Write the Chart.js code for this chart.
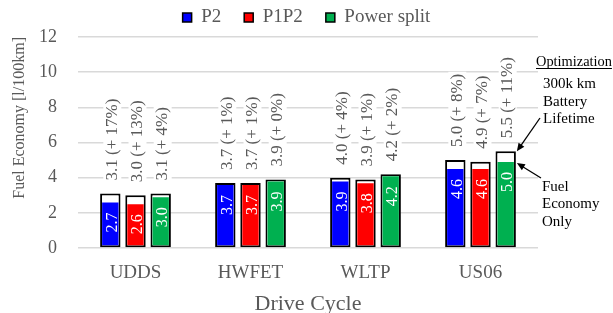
<!DOCTYPE html>
<html>
<head>
<meta charset="utf-8">
<script src="https://cdn.jsdelivr.net/npm/chart.js@4/dist/chart.umd.min.js"></script>
<style>
	html, body { margin: 0; padding: 0; background: #fff; }
	#wrap { width: 613px; height: 313px; position: relative; }
</style>
</head>
<body>
<div id="wrap"><canvas id="bar-chart"></canvas></div>
<script>
const cycles = ['UDDS', 'HWFET', 'WLTP', 'US06'];
const seriesNames = ['P2', 'P1P2', 'Power split'];
const seriesColors = ['#0000ff', '#ff0000', '#00b050'];

// fuel economy only optimisation (coloured part)
const feP2 = [2.7, 3.7, 3.9, 4.6];
const feP1P2 = [2.6, 3.7, 3.8, 4.6];
const fePowerSplit = [3.0, 3.9, 4.2, 5.0];

// 300k km battery lifetime optimisation (outlined bar)
const lifeP2 = [3.1, 3.7, 4.0, 5.0];
const lifeP1P2 = [3.0, 3.7, 3.9, 4.9];
const lifePowerSplit = [3.1, 3.9, 4.2, 5.5];

// increase in percent
const pctP2 = [17, 1, 4, 8];
const pctP1P2 = [13, 1, 1, 7];
const pctPowerSplit = [4, 0, 2, 11];

const yTicks = [0, 2, 4, 6, 8, 10, 12];

const feValues = [feP2, feP1P2, fePowerSplit],
	lifeValues = [lifeP2, lifeP1P2, lifePowerSplit],
	pctValues = [pctP2, pctP1P2, pctPowerSplit];

const serif = '"Liberation Serif", "Times New Roman", serif';
const grey = '#595959';

let datasets = [];
// coloured fill bars first so they are drawn on top
for (let s = 0; s < 3; s++) {
	datasets.push({
		label: seriesNames[s],
		data: feValues[s],
		stack: 's' + s,
		backgroundColor: seriesColors[s],
		borderColor: 'rgba(0,0,0,0)',
		borderWidth: 2,
		borderSkipped: false,
		categoryPercentage: 0.657,
		barPercentage: 0.81
	});
}
for (let s = 0; s < 3; s++) {
	datasets.push({
		label: seriesNames[s] + ' lifetime',
		data: lifeValues[s],
		stack: 's' + s,
		backgroundColor: '#ffffff',
		borderColor: '#000000',
		borderWidth: 2,
		borderSkipped: false,
		categoryPercentage: 0.657,
		barPercentage: 0.81
	});
}

const barLabels = {
	id: 'barLabels',
	afterDatasetsDraw(chart) {
		const ctx = chart.ctx;
		for (let s = 0; s < 3; s++) {
			const outMeta = chart.getDatasetMeta(s + 3),
				fillMeta = chart.getDatasetMeta(s);
			outMeta.data.forEach(function (bar, i) {
				const txt = lifeValues[s][i].toFixed(1) + ' (+ ' + pctValues[s][i] + '%)';
				ctx.save();
				ctx.font = '17px ' + serif;
				const w = ctx.measureText(txt).width;
				const x = bar.x + 2, y = bar.y - 13;
				ctx.fillStyle = '#fff';
				ctx.fillRect(x - 9, y - w - 2, 18, w + 4);
				ctx.translate(x, y);
				ctx.rotate(-Math.PI / 2);
				ctx.textAlign = 'left';
				ctx.textBaseline = 'middle';
				ctx.fillStyle = grey;
				ctx.fillText(txt, 0, 0);
				ctx.restore();
			});
			fillMeta.data.forEach(function (bar, i) {
				const txt = feValues[s][i].toFixed(1);
				ctx.save();
				ctx.font = '16px ' + serif;
				ctx.translate(bar.x + 2, bar.y + 12);
				ctx.rotate(-Math.PI / 2);
				ctx.textAlign = 'right';
				ctx.textBaseline = 'middle';
				ctx.fillStyle = '#fff';
				ctx.fillText(txt, 0, 0);
				ctx.restore();
			});
		}
	}
};

function arrow(ctx, x1, y1, x2, y2) {
	const a = Math.atan2(y2 - y1, x2 - x1);
	ctx.beginPath();
	ctx.moveTo(x1, y1);
	ctx.lineTo(x2 - 6 * Math.cos(a), y2 - 6 * Math.sin(a));
	ctx.stroke();
	ctx.beginPath();
	ctx.moveTo(x2, y2);
	ctx.lineTo(x2 - 8 * Math.cos(a) + 3.5 * Math.sin(a), y2 - 8 * Math.sin(a) - 3.5 * Math.cos(a));
	ctx.lineTo(x2 - 8 * Math.cos(a) - 3.5 * Math.sin(a), y2 - 8 * Math.sin(a) + 3.5 * Math.cos(a));
	ctx.closePath();
	ctx.fill();
}

const notes = {
	id: 'notes',
	afterDraw(chart) {
		const ctx = chart.ctx;
		const outline = chart.getDatasetMeta(5).data[3],
			fill = chart.getDatasetMeta(2).data[3];
		const rx = outline.x + outline.width / 2;
		ctx.save();
		ctx.fillStyle = '#000';
		ctx.strokeStyle = '#000';
		ctx.textAlign = 'left';
		ctx.textBaseline = 'middle';
		ctx.font = '14.4px ' + serif;
		ctx.fillText('Optimization', 536, 62);
		const ow = ctx.measureText('Optimization').width;
		ctx.lineWidth = 1;
		ctx.beginPath();
		ctx.moveTo(536, 68.5);
		ctx.lineTo(536 + ow, 68.5);
		ctx.stroke();
		ctx.font = '15px ' + serif;
		ctx.fillText('300k km', 543, 84);
		ctx.fillText('Battery', 543, 102);
		ctx.fillText('Lifetime', 543, 119);
		ctx.fillText('Fuel', 542, 187);
		ctx.fillText('Economy', 542, 204);
		ctx.fillText('Only', 542, 222);
		ctx.lineWidth = 1.3;
		arrow(ctx, 540, 118, rx + 1, outline.y);
		arrow(ctx, 541, 178, rx + 1, fill.y + 3);
		ctx.restore();
	}
};

const ctx = document.querySelector('#bar-chart').getContext('2d');
const bChart = new Chart(ctx, {
	type: 'bar',
	data: {
		labels: cycles,
		datasets: datasets
	},
	options: {
		responsive: true,
		maintainAspectRatio: false,
		animation: false,
		events: [],
		layout: {
			padding: { top: -15, left: 0, right: 0, bottom: 0 }
		},
		plugins: {
			tooltip: { enabled: false },
			legend: {
				display: true,
				position: 'top',
				labels: {
					boxWidth: 9,
					boxHeight: 9,
					padding: 23,
					color: grey,
					font: { family: serif, size: 19 },
					generateLabels: function (chart) {
						return Chart.defaults.plugins.legend.labels.generateLabels(chart)
							.filter(function (item) { return item.datasetIndex < 3; })
							.map(function (item) {
								item.strokeStyle = '#000';
								item.lineWidth = 1.5;
								return item;
							});
					}
				}
			}
		},
		scales: {
			x: {
				stacked: true,
				grid: { display: false, drawTicks: false },
				border: { display: false },
				ticks: {
					color: grey,
					font: { family: serif, size: 19 },
					padding: 14
				},
				title: {
					display: true,
					text: 'Drive Cycle',
					color: grey,
					font: { family: serif, size: 22, lineHeight: 1 },
					padding: { top: 0, bottom: -2 }
				},
				afterFit: function (s) { s.height = 65; }
			},
			y: {
				stacked: false,
				min: yTicks[0],
				max: yTicks[yTicks.length - 1],
				afterBuildTicks: function (s) {
					s.ticks = yTicks.map(function (v) { return { value: v }; });
				},
				ticks: {
					color: grey,
					font: { family: serif, size: 18 },
					padding: 21
				},
				grid: { color: '#d9d9d9', lineWidth: 1.5, drawTicks: false },
				border: { display: false },
				title: {
					display: true,
					text: 'Fuel Economy [l/100km]',
					align: 'end',
					color: grey,
					font: { family: serif, size: 16 },
					padding: { top: 10, bottom: 0 }
				},
				afterFit: function (s) { s.width = 78; }
			},
			yr: {
				type: 'linear',
				position: 'right',
				display: true,
				grid: { display: false, drawTicks: false },
				border: { display: false },
				ticks: { display: false },
				afterFit: function (s) { s.width = 75; }
			}
		}
	},
	plugins: [barLabels, notes]
});
</script>
</body>
</html>
